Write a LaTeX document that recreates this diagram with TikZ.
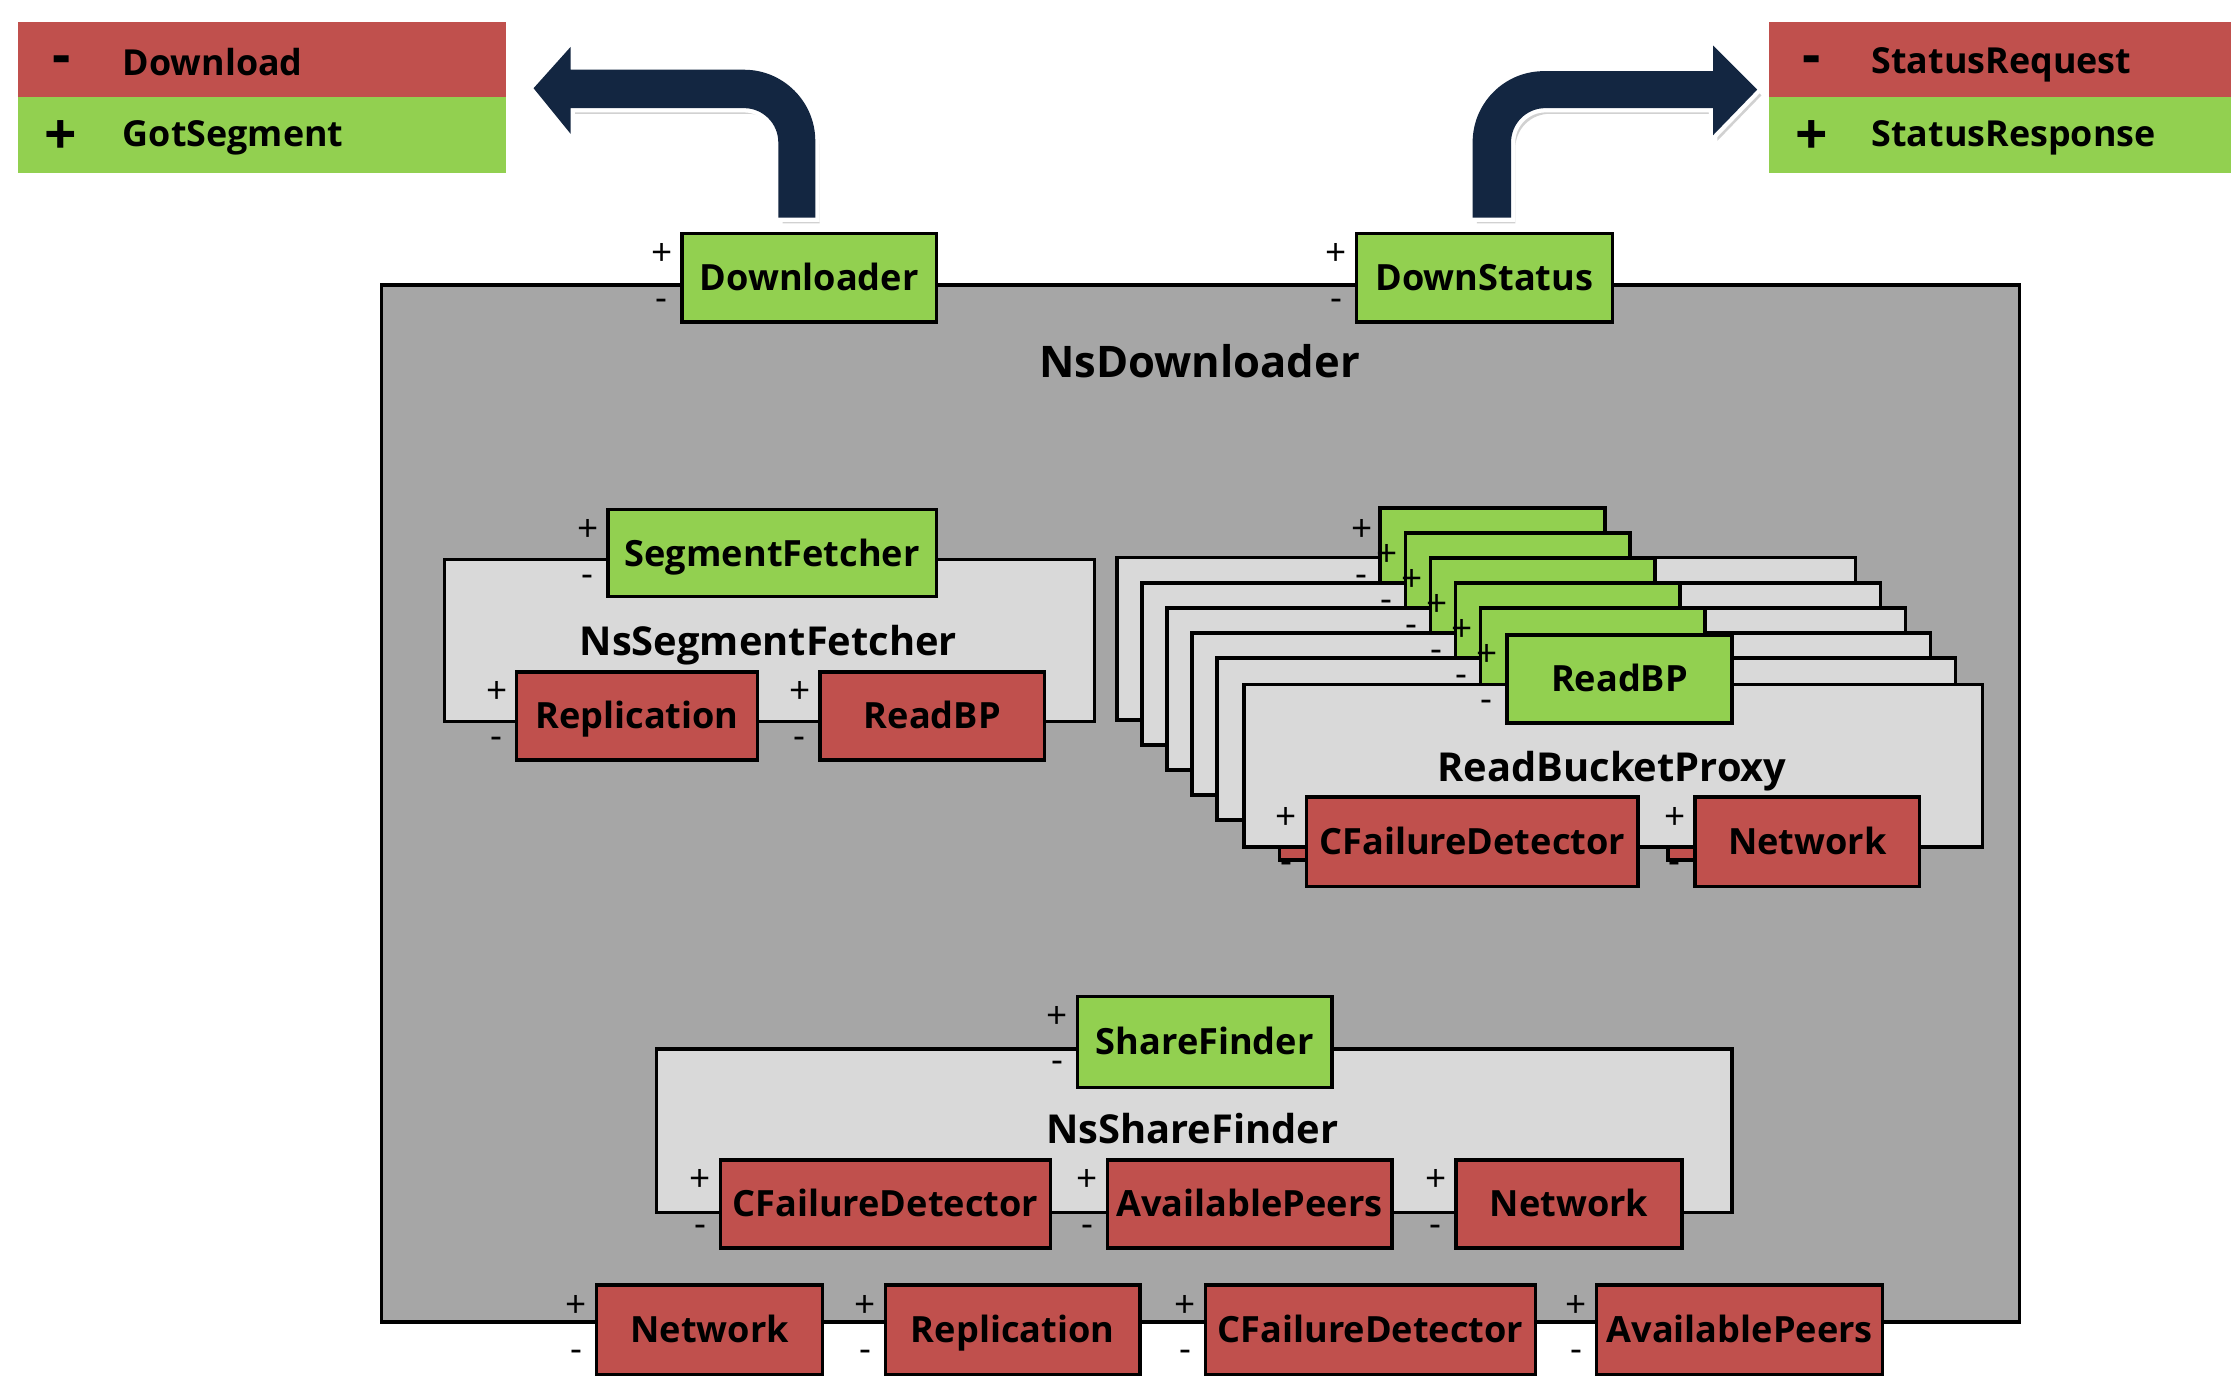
\documentclass[tikz,border=0pt]{standalone}
\usepackage{fontspec}
\setmainfont{Open Sans}
\definecolor{portgreen}{HTML}{92D050}
\definecolor{portred}{HTML}{C0504D}
\definecolor{outerpanel}{HTML}{A6A6A6}
\definecolor{innerpanel}{HTML}{D9D9D9}
\definecolor{navy}{HTML}{132641}
\tikzset{
  base/.style={draw=black, line width=1.2pt, anchor=north west, inner sep=0pt,
               text height=9.1pt, text depth=0pt,
               font=\fontsize{12.7}{13}\selectfont\bfseries},
  greenport/.style={base, fill=portgreen},
  redport/.style={base, fill=portred},
  panel/.style={base, fill=innerpanel},
  outline/.style={draw=black, line width=1.2pt},
  sign/.style={inner sep=0pt, font=\fontsize{13}{13}\selectfont},
  paneltitle/.style={inner sep=0pt, text height=10pt, text depth=0pt,
                     font=\fontsize{14}{15}\selectfont\bfseries},
  legendtext/.style={inner sep=0pt, anchor=base west, font=\fontsize{12.6}{14}\selectfont\bfseries},
  legendsign/.style={inner sep=0pt, font=\fontsize{20}{20}\selectfont\bfseries},
  legendbar/.style={anchor=north west, inner sep=0pt, minimum height=26.5pt},
  bentarrow/.style={fill=navy, draw=white, line width=3pt, line join=miter},
  arrowshadow/.style={fill=black, opacity=0.18},
}
% port box with its + and - marks on the left
\newcommand\portbox[7]{%
  \node[#2, minimum width=#5pt, minimum height=#6pt] (#1) at (#3,#4) {#7};
  \node[sign] (#1-plus) at ([shift={(-13,16)}]#1.north west) {+};
  \node[sign] (#1-minus) at ([shift={(-13,51)}]#1.north west) {-};
}
\begin{document}
\begin{tikzpicture}[x=0.5pt,y=-0.5pt]
\useasboundingbox (0,0) rectangle (1568,976);

% legends
\node[legendbar, fill=portred, minimum width=171.5pt] (legl1) at (12,15) {};
\node[legendbar, fill=portgreen, minimum width=171.5pt] (legl2) at (12,68) {};
\node[legendsign] (legl1s) at (43,46) {-};
\node[legendsign] (legl2s) at (43,97) {+};
\node[legendtext] (legl1t) at (86,53) {Download};
\node[legendtext] (legl2t) at (86,103) {GotSegment};

\node[legendbar, fill=portred, minimum width=162.5pt] (legr1) at (1243,15) {};
\node[legendbar, fill=portgreen, minimum width=162.5pt] (legr2) at (1243,68) {};
\node[legendsign] (legr1s) at (1273,46) {-};
\node[legendsign] (legr2s) at (1273,97) {+};
\node[legendtext] (legr1t) at (1315,52) {StatusRequest};
\node[legendtext] (legr2t) at (1315,103) {StatusResponse};

% bent arrows
\def\leftarrowpath{(573,153) -- (573,99) .. controls (573,71.4) and (550.4,49) .. (523,49)
  -- (401,49) -- (401,33) -- (375,62) -- (401,94) -- (401,76) -- (523,76)
  .. controls (536.2,76) and (547,86.8) .. (547,100) -- (547,153) -- cycle}
\def\rightarrowpath{(1035,153) -- (1035,100) .. controls (1035,72.4) and (1057.4,50) .. (1085,50)
  -- (1204,50) -- (1204,32) -- (1235,63) -- (1204,95) -- (1204,76) -- (1086,76)
  .. controls (1072.8,76) and (1062,86.8) .. (1062,100) -- (1062,153) -- cycle}
\begin{scope}[shift={(3,4)}]
  \fill[arrowshadow] \leftarrowpath;
  \fill[arrowshadow] \rightarrowpath;
\end{scope}
\path[bentarrow] \leftarrowpath;
\fill[navy] \leftarrowpath;
\path[bentarrow] \rightarrowpath;
\fill[navy] \rightarrowpath;

% outer component
\node[base, fill=outerpanel, minimum width=575.5pt, minimum height=364.5pt] (nsd) at (267,199) {};
\node[paneltitle, text height=11pt, font=\fontsize{15.3}{16}\selectfont\bfseries] (nsdt) at (843,254) {NsDownloader};
\portbox{downloader}{greenport}{478}{163}{89.5}{31}{Downloader}
\portbox{downstatus}{greenport}{952}{163}{90}{31}{DownStatus}

% segment fetcher
\node[panel, minimum width=228.5pt, minimum height=57pt] (nssf) at (311,392) {};
\node[paneltitle] (nssft) at (540,451) {NsSegmentFetcher};
\portbox{segf}{greenport}{426}{357}{115.5}{30.5}{SegmentFetcher}
\portbox{segrep}{redport}{362}{471}{84.5}{31}{Replication}
\portbox{segrbp}{redport}{575}{471}{79}{31}{ReadBP}

% stack of read bucket proxies: the copies behind the front one
\foreach \i in {0,...,4}{
  \path[outline, fill=innerpanel] (785+17.6*\i,392+17.6*\i) rectangle ++(519,114);
  \path[outline, fill=portgreen] (970+17.6*\i,357+17.6*\i) rectangle ++(158,62);
  \node[sign] (rbpg\i-plus) at (957+17.6*\i,373+17.6*\i) {+};
  \node[sign] (rbpg\i-minus) at (957+17.6*\i,408+17.6*\i) {-};
  \path[outline, fill=portred] (829+17.6*\i,471+17.6*\i) rectangle ++(233,63);
  \path[outline, fill=portred] (1102+17.6*\i,471+17.6*\i) rectangle ++(158,63);
}
% front copy
\node[panel, minimum width=259.5pt, minimum height=57pt] (rbp5) at (873,480) {};
\node[paneltitle] (rbpt) at (1133,539) {ReadBucketProxy};
\portbox{rbpg5}{greenport}{1058}{445}{79}{31}{ReadBP}
\portbox{rbpc5}{redport}{917}{559}{116.5}{31.5}{CFailureDetector}
\portbox{rbpn5}{redport}{1190}{559}{79}{31.5}{Network}

% share finder
\node[panel, minimum width=378pt, minimum height=57.5pt] (nshf) at (460,736) {};
\node[paneltitle] (nshft) at (838,794) {NsShareFinder};
\portbox{shf}{greenport}{756}{699}{89.5}{32}{ShareFinder}
\portbox{shfc}{redport}{505}{814}{116}{31}{CFailureDetector}
\portbox{shfa}{redport}{777}{814}{100}{31}{AvailablePeers}
\portbox{shfn}{redport}{1022}{814}{79.5}{31}{Network}

% required services of the downloader
\portbox{bnet}{redport}{418}{902}{79.5}{31.5}{Network}
\portbox{brep}{redport}{621}{902}{89.5}{31.5}{Replication}
\portbox{bcfd}{redport}{846}{902}{116}{31.5}{CFailureDetector}
\portbox{bavp}{redport}{1121}{902}{100.5}{31.5}{AvailablePeers}
\end{tikzpicture}
\end{document}
